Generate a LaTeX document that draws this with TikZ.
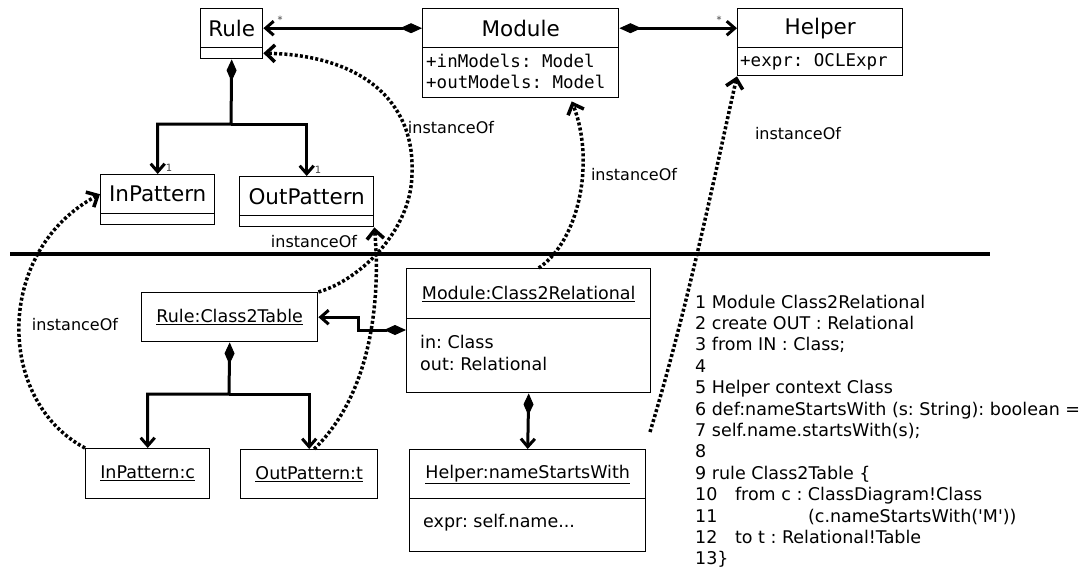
\documentclass[tikz,border=0pt]{standalone}
\usepackage{fontspec}
\setmainfont{DejaVu Sans}
\setmonofont{DejaVu Sans Mono}
\usetikzlibrary{arrows.meta,calc}
\frenchspacing
\begin{document}
\begin{tikzpicture}[x=1pt,y=-1pt,
 hdr/.style={draw, line width=1.4pt, inner sep=0pt, anchor=north west, font=\fontsize{21.5}{25}\selectfont},
 bod/.style={draw, line width=1.4pt, inner sep=0pt, anchor=north west},
 obj/.style={draw, line width=1.4pt, inner sep=0pt, anchor=north west, font=\fontsize{17.5}{21}\selectfont},
 txt/.style={inner sep=0pt, anchor=west, font=\fontsize{17.5}{21}\selectfont},
 mono/.style={inner sep=0pt, anchor=west, font=\ttfamily\fontsize{17.5}{21}\selectfont},
 code/.style={inner sep=0pt, anchor=base west, font=\fontsize{17.5}{21}\selectfont},
 lbl/.style={inner sep=0pt, font=\fontsize{16}{19}\selectfont},
 mult/.style={inner sep=0pt, font=\fontsize{10}{12}\selectfont, text=black!75},
 comp/.style={line width=3pt, {Diamond[length=22pt,width=10pt,line width=1pt,fill=black]}-{Straight Barb[length=8pt,width=14pt]}},
 assoc/.style={line width=3pt, -{Straight Barb[length=8pt,width=14pt]}},
 inst/.style={line width=3.5pt, dash pattern=on 3pt off 2.2pt, -{Straight Barb[length=9pt,width=17pt]}}
]
\useasboundingbox[fill=white] (0,0) rectangle (1088,579);

% ---- metamodel ----
\node[hdr, minimum width=62pt, minimum height=39pt] (ruleH) at (200,8) {Rule};
\node[bod, minimum width=62pt, minimum height=11pt] (ruleB) at (200,47) {};
\node[hdr, minimum width=196pt, minimum height=39pt] (moduleH) at (422,8) {Module};
\node[bod, minimum width=196pt, minimum height=50pt] (moduleB) at (422,47) {};
\node[mono] (mIn) at (426,61) {+inModels: Model};
\node[mono] (mOut) at (426,82) {+outModels: Model};
\node[hdr, minimum width=165pt, minimum height=39pt] (helperH) at (737,8) {Helper};
\node[bod, minimum width=165pt, minimum height=28pt] (helperB) at (737,47) {};
\node[mono] (hExpr) at (740,62) {+expr: OCLExpr};
\node[hdr, minimum width=114pt, minimum height=39pt] (inpH) at (100,174) {InPattern};
\node[bod, minimum width=114pt, minimum height=11pt] (inpB) at (100,213) {};
\node[hdr, minimum width=134pt, minimum height=39pt] (outpH) at (239,176) {OutPattern};
\node[bod, minimum width=134pt, minimum height=11pt] (outpB) at (239,215) {};

\draw[comp] (moduleH.west) -- (ruleH.east);
\node[mult] (s1) at (280,20) {*};
\draw[comp] (moduleH.east) -- (helperH.west);
\node[mult] (s2) at (719,20) {*};
\coordinate (rsplit) at (231,124);
\draw[comp] (ruleB.south) -- (rsplit) -| (inpH.north);
\draw[assoc] (rsplit) -| (outpH.north);
\node[mult] (m1) at (169,168) {1};
\node[mult] (m2) at (318,170) {1};

% ---- separator ----
\coordinate (sepL) at (10,254);
\coordinate (sepR) at (990,254);
\draw[line width=4pt] (sepL) -- (sepR);

% ---- model ----
\node[obj, minimum width=176pt, minimum height=49pt] (r2t) at (141,292) {\underline{Rule:Class2Table}};
\node[obj, minimum width=124pt, minimum height=50pt] (inpc) at (85,448) {\underline{InPattern:c}};
\node[obj, minimum width=137pt, minimum height=49pt] (outpt) at (240,449) {\underline{OutPattern:t}};
\node[obj, minimum width=244pt, minimum height=50pt] (mcrH) at (406,268) {\underline{Module:Class2Relational}};
\node[bod, minimum width=244pt, minimum height=74pt] (mcrB) at (406,318) {};
\node[txt] (mcrIn) at (420,342) {in: Class};
\node[txt] (mcrOut) at (420,364) {out: Relational};
\node[obj, minimum width=236pt, minimum height=49pt] (hnsH) at (409,449) {\underline{Helper:nameStartsWith}};
\node[bod, minimum width=236pt, minimum height=53pt] (hnsB) at (409,498) {};
\node[txt] (hnsE) at (423,523) {expr: self.name...};

\coordinate (csplit) at (229,394);
\draw[comp] (r2t.south) -- (csplit) -| (inpc.north);
\draw[assoc] (csplit) -| (outpt.north);
\coordinate (mcrD) at ($(mcrB.north west)+(0,12)$);
\draw[comp] (mcrD) -- (358,330) |- (r2t.east);
\draw[comp] (mcrB.south) -- (hnsH.north);

% ---- instanceOf ----
\draw[inst] (inpc.north west) .. controls (-5,400) and (-5,250) .. (inpH.west);
\node[lbl] (i1) at (75,325) {instanceOf};
\draw[inst] (r2t.north east) .. controls (360,280) and (412,230) .. (412,173) .. controls (415,100) and (360,55) .. (ruleB.east);
\node[lbl] (i2) at (451,128) {instanceOf};
\draw[inst] ($(outpt.north)+(5,0)$) .. controls (375,390) and (380,290) .. (outpB.south east);
\node[lbl] (i3) at (314,242) {instanceOf};
\draw[inst] ($(mcrH.north)+(10,0)$) .. controls (580,240) and (595,160) .. ($(moduleB.south)+(51,3)$);
\node[lbl] (i4) at (634,175) {instanceOf};
\coordinate (c5) at (650,432);
\draw[inst] (c5) .. controls (690,300) and (720,150) .. (helperB.south west);
\node[lbl] (i5) at (798,134) {instanceOf};

% ---- code ----
\node[code] (l1) at (695,308) {1 Module Class2Relational};
\node[code] (l2) at (695,329.4) {2 create OUT : Relational};
\node[code] (l3) at (695,350.8) {3 from IN : Class;};
\node[code] (l4) at (695,372.2) {4};
\node[code] (l5) at (695,393.6) {5 Helper context Class};
\node[code] (l6) at (695,415) {6 def:nameStartsWith (s: String): boolean =};
\node[code] (l7) at (695,436.4) {7 self.name.startsWith(s);};
\node[code] (l8) at (695,457.8) {8};
\node[code] (l9) at (695,479.2) {9 rule Class2Table \{};
\node[code] (l10) at (695,500.6) {10\hspace{17.6pt}from c : ClassDiagram!Class};
\node[code] (l11) at (695,522) {11\hspace{90.6pt}(c.nameStartsWith(\textquotesingle M\textquotesingle))};
\node[code] (l12) at (695,543.4) {12\hspace{17.6pt}to t : Relational!Table};
\node[code] (l13) at (695,564.8) {13\}};
\end{tikzpicture}
\end{document}
